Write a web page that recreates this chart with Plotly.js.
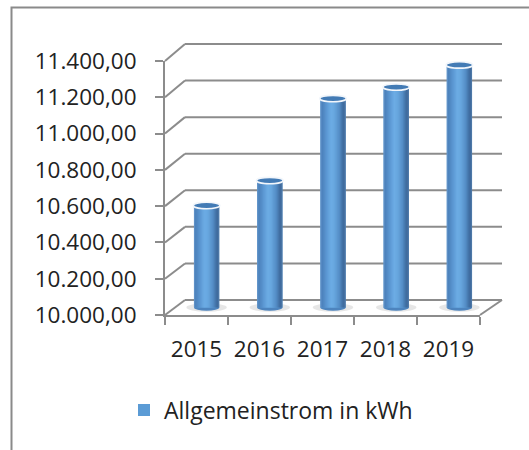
<!DOCTYPE html>
<html>
<head>
<meta charset="utf-8">
<script src="https://cdn.plot.ly/plotly-3.0.1.min.js"></script>
<style>html,body{margin:0;padding:0;background:#fff;}#chart{width:529px;height:450px;}</style>
</head>
<body>
<div id="chart"></div>
<script>
// ---- data ----
const years = ['2015', '2016', '2017', '2018', '2019'];
const values = [10560, 10697, 11147, 11210, 11332];
const seriesName = 'Allgemeinstrom in kWh';
const yMin = 10000, yMax = 11400;
const tickValues = [10000, 10200, 10400, 10600, 10800, 11000, 11200, 11400];

// ---- geometry helpers (pixels -> paper) ----
const W = 529, H = 450;
const px = x => x / W;
const py = y => 1 - y / H;

const front = {x: [px(165), px(480)], y: [py(315), py(61)]};
const backPxPerUnit = (300 - 44) / (yMax - yMin);
const backPad = 20;
const back  = {x: [px(185), px(502)], y: [py(300 + backPad * backPxPerUnit), py(44 - backPad * backPxPerUnit)]};
const backF = {x0: back.x[0], x1: back.x[1], y0: py(300), y1: py(44)};
const midPxPerUnit = (307.5 - 52.5) / (yMax - yMin);
const midLow = yMin - 50;
const mid   = {x: [px(175), px(491)], y: [py(307.5 + (yMin - midLow) * midPxPerUnit), py(52.5)]};

const gray = '#8c8c8c';
const txt = '#222222';
const font = 'Open Sans, Noto Sans, sans-serif';

// cylinder shading profile (left -> right)
const stops = [
  [0.00, [104, 152, 205]],
  [0.07, [76, 130, 188]],
  [0.25, [92, 152, 211]],
  [0.42, [108, 172, 228]],
  [0.55, [104, 167, 223]],
  [0.75, [84, 141, 198]],
  [0.92, [60, 104, 154]],
  [1.00, [84, 126, 172]]
];
function shade(t) {
  for (let i = 0; i < stops.length - 1; i++) {
    const [a, ca] = stops[i], [b, cb] = stops[i + 1];
    if (t >= a && t <= b) {
      const f = (t - a) / (b - a);
      const c = ca.map((v, k) => Math.round(v + (cb[k] - v) * f));
      return 'rgb(' + c.join(',') + ')';
    }
  }
  return 'rgb(' + stops[stops.length - 1][1].join(',') + ')';
}

const barW = 0.4;
const heights = values.map(v => v - yMin);
const traces = [];

// invisible trace to build the front category axis
traces.push({
  type: 'scatter', x: years, y: values, xaxis: 'x', yaxis: 'y',
  mode: 'markers', marker: {opacity: 0}, hoverinfo: 'skip', showlegend: false
});

// back wall gridlines (one line per tick value)
const gx = [], gy = [];
tickValues.forEach(v => { gx.push(0, 1, null); gy.push(v, v, null); });
traces.push({
  type: 'scatter', x: gx, y: gy, xaxis: 'x2', yaxis: 'y2', mode: 'lines',
  line: {color: gray, width: 2}, hoverinfo: 'skip', showlegend: false
});

// base bar (legend carrier)
traces.push({
  type: 'bar', name: seriesName, x: years, y: heights, base: yMin,
  xaxis: 'x3', yaxis: 'y3', width: barW, offset: -barW / 2,
  marker: {color: '#5b9bd5', line: {width: 0}}, showlegend: true, hoverinfo: 'x+text',
  text: values.map(String), textposition: 'none'
});

// cylinder shading slices
const N = 22, step = barW / N;
for (let i = 0; i < N; i++) {
  const off = -barW / 2 + i * step;
  const w = Math.min(step * 1.7, barW / 2 - off);
  traces.push({
    type: 'bar', x: years, y: heights, base: yMin,
    xaxis: 'x3', yaxis: 'y3', width: w, offset: off,
    marker: {color: shade((i + 0.5) / N), line: {width: 0}},
    showlegend: false, hoverinfo: 'skip'
  });
}

// ---- shapes ----
const shapes = [];
// outer border
shapes.push({type: 'rect', xref: 'paper', yref: 'paper',
  x0: px(11.5), x1: px(540), y0: py(7.5), y1: py(470),
  line: {color: '#8a8a8a', width: 2}, fillcolor: 'rgba(0,0,0,0)'});

// side wall diagonals (front tick -> back gridline)
tickValues.forEach(v => {
  const f = (v - yMin) / (yMax - yMin);
  shapes.push({type: 'line', xref: 'paper', yref: 'paper',
    x0: front.x[0], y0: front.y[0] + f * (front.y[1] - front.y[0]),
    x1: backF.x0,   y1: backF.y0 + f * (backF.y1 - backF.y0),
    line: {color: gray, width: 2}});
});
// floor right edge
shapes.push({type: 'line', xref: 'paper', yref: 'paper',
  x0: front.x[1], y0: front.y[0], x1: backF.x1, y1: backF.y0,
  line: {color: gray, width: 2}});

// bar bases, shadows and tops
const capHalf = 3.2 / midPxPerUnit;
years.forEach((yr, i) => {
  shapes.push({type: 'circle', xref: 'x3', yref: 'y3', layer: 'below',
    x0: i - 0.32, x1: i + 0.32, y0: yMin - capHalf * 1.3, y1: yMin + capHalf * 1.3,
    fillcolor: 'rgba(205,205,205,0.5)', line: {width: 0}});
  shapes.push({type: 'circle', xref: 'x3', yref: 'y3', layer: 'below',
    x0: i - barW / 2, x1: i + barW / 2, y0: yMin - capHalf, y1: yMin + capHalf,
    fillcolor: '#4d84be', line: {width: 0}});
  shapes.push({type: 'circle', xref: 'x3', yref: 'y3',
    x0: i - barW / 2 - 0.01, x1: i + barW / 2 + 0.01,
    y0: values[i] - capHalf, y1: values[i] + capHalf,
    fillcolor: '#437bb5', line: {color: '#f2f6fb', width: 1.6}});
});

const layout = {
  width: W, height: H, autosize: false,
  margin: {l: 0, r: 0, t: 0, b: 0, pad: 0},
  paper_bgcolor: '#ffffff', plot_bgcolor: 'rgba(0,0,0,0)',
  separators: ',.',
  barmode: 'overlay',
  font: {family: font, color: txt, size: 22},
  showlegend: true,
  legend: {x: px(124), xanchor: 'left', y: py(410), yanchor: 'middle',
    orientation: 'h', font: {family: font, size: 23, color: txt},
    bgcolor: 'rgba(0,0,0,0)', borderwidth: 0},
  xaxis: {domain: front.x, anchor: 'y', type: 'category',
    categoryorder: 'array', categoryarray: years, range: [-0.5, years.length - 0.5],
    showgrid: false, zeroline: false, showline: true, linecolor: gray, linewidth: 2,
    ticks: 'outside', tickson: 'boundaries', ticklen: 8, tickwidth: 2, tickcolor: gray,
    tickfont: {family: font, size: 22.5, color: txt}, ticklabelstandoff: 13, fixedrange: true},
  yaxis: {domain: front.y, anchor: 'x', range: [yMin, yMax],
    tickmode: 'array', tickvals: tickValues, tickformat: ',.2f',
    showgrid: false, zeroline: false, showline: true, linecolor: gray, linewidth: 2,
    ticks: 'outside', ticklen: 8, tickwidth: 2, tickcolor: gray,
    tickfont: {family: font, size: 22.5, color: txt}, ticklabelstandoff: 14, fixedrange: true},
  xaxis2: {domain: back.x, anchor: 'y2', range: [0, 1], visible: false, fixedrange: true},
  yaxis2: {domain: back.y, anchor: 'x2', range: [yMin - backPad, yMax + backPad],
    visible: false, fixedrange: true},
  xaxis3: {domain: mid.x, anchor: 'y3', type: 'category',
    categoryorder: 'array', categoryarray: years, range: [-0.5, years.length - 0.5],
    visible: false, fixedrange: true},
  yaxis3: {domain: mid.y, anchor: 'x3', range: [midLow, yMax], visible: false, fixedrange: true},
  shapes: shapes
};

Plotly.newPlot('chart', traces, layout, {displayModeBar: false, staticPlot: true});
</script>
</body>
</html>
